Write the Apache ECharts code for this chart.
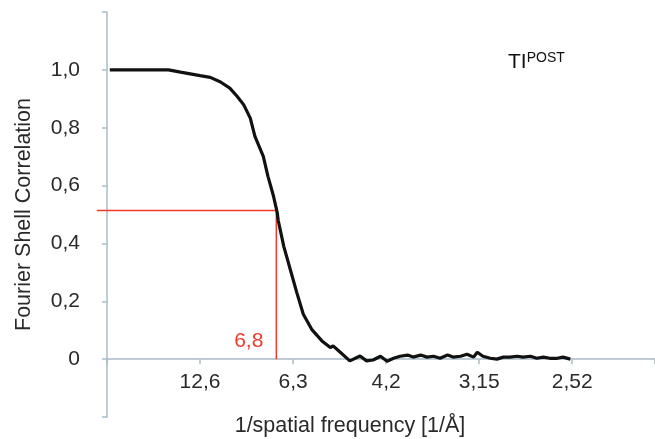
<!DOCTYPE html>
<html>
<head>
<meta charset="utf-8">
<script src="https://cdn.jsdelivr.net/npm/echarts@6/dist/echarts.min.js"></script>
<style>
  html, body { margin: 0; padding: 0; background: #fff; }
  #chart { width: 655px; height: 439px; }
</style>
</head>
<body>
<div id="chart"></div>
<script>
// x is spatial frequency in steps of 1/12.6 Å^-1, y is the correlation
const fscX = [0.03, 0.66, 0.79, 1.0, 1.11, 1.22, 1.32, 1.40, 1.47, 1.54, 1.59, 1.68, 1.73, 1.79, 1.83, 1.84,
  1.90, 1.97, 2.04, 2.11, 2.20, 2.31, 2.40, 2.43, 2.51, 2.61, 2.72, 2.79, 2.86, 2.94, 3.01, 3.08, 3.15,
  3.23, 3.29, 3.37, 3.44, 3.51, 3.58, 3.66, 3.72, 3.80, 3.87, 3.94, 3.98, 4.04, 4.12, 4.19, 4.26, 4.33,
  4.41, 4.47, 4.55, 4.62, 4.69, 4.76, 4.84, 4.90, 4.98];
const fscY = [1.0, 1.0, 0.992, 0.980, 0.974, 0.958, 0.937, 0.908, 0.879, 0.833, 0.770, 0.701, 0.632, 0.563, 0.506, 0.48,
  0.390, 0.310, 0.230, 0.155, 0.103, 0.063, 0.040, 0.046, 0.023, -0.006, 0.011, -0.006, -0.003, 0.010, -0.007, 0.003, 0.010,
  0.014, 0.007, 0.014, 0.007, 0.010, 0.003, 0.014, 0.007, 0.010, 0.017, 0.007, 0.024, 0.010, 0.003, 0.0, 0.007, 0.007,
  0.010, 0.007, 0.010, 0.003, 0.007, 0.003, 0.003, 0.007, 0.0];

const xTickLabels = ['12,6', '6,3', '4,2', '3,15', '2,52'];
const yTickValues = [0, 0.2, 0.4, 0.6, 0.8, 1.0];

// 0.5 threshold crossing (red guide)
const crossX = 1.82;
const crossY = 0.514;
const guideStartX = -0.11;
const crossLabel = '6,8';

const fscData = fscX.map((x, i) => [x, fscY[i]]);
const guideData = [[guideStartX, crossY], [crossX, crossY], [crossX, 0]];

const axisColor = '#a9bdc6';
const textColor = '#2a2a2a';
const red = '#f03a2c';
const font = 'Liberation Sans, Arial, sans-serif';

const yMin = -0.2, yMax = 1.2;
const gridTop = 12, gridBottom = 22;
const gridHeight = 439 - gridTop - gridBottom;
// pull the x axis up from the grid bottom to y = 0
const xAxisOffset = -gridHeight * (0 - yMin) / (yMax - yMin);

const myChart = echarts.init(document.getElementById('chart'));
const option = {
  animation: false,
  title: {
    text: '{a|TI}{b|POST}',
    left: 503,
    top: 46,
    textStyle: {
      rich: {
        a: { fontFamily: font, fontSize: 21, fontWeight: 'normal', color: '#111' },
        b: { fontFamily: font, fontSize: 14, fontWeight: 'normal', color: '#111', padding: [0, 0, 9, 0] }
      }
    }
  },
  grid: { left: 107, right: 0, top: gridTop, bottom: gridBottom, outerBoundsMode: 'none' },
  xAxis: {
    type: 'value',
    min: 0,
    max: 5.89,
    interval: 1,
    position: 'bottom',
    offset: xAxisOffset,
    name: '1/spatial frequency [1/Å]',
    nameLocation: 'middle',
    nameGap: 56,
    nameTextStyle: { fontFamily: font, fontSize: 21.5, color: textColor, padding: [0, 62, 0, 0] },
    axisLine: { onZero: false, lineStyle: { color: axisColor, width: 1.5 } },
    axisTick: { length: 5, lineStyle: { color: axisColor, width: 1.5 } },
    axisLabel: {
      margin: 13,
      fontFamily: font,
      fontSize: 21,
      color: textColor,
      formatter: v => (Number.isInteger(v) && v >= 1 ? xTickLabels[v - 1] || '' : '')
    },
    splitLine: { show: false }
  },
  yAxis: {
    type: 'value',
    min: yMin,
    max: yMax,
    interval: 0.2,
    name: 'Fourier Shell Correlation',
    nameLocation: 'middle',
    nameGap: 72,
    nameTextStyle: { fontFamily: font, fontSize: 21.5, color: textColor },
    axisLine: { show: true, lineStyle: { color: axisColor, width: 1.5 } },
    axisTick: { show: true, length: 5, lineStyle: { color: axisColor, width: 1.5 } },
    axisLabel: {
      margin: 27,
      fontFamily: font,
      fontSize: 21,
      color: textColor,
      formatter: v => {
        const r = Math.round(v * 10) / 10;
        if (!yTickValues.some(t => Math.abs(t - r) < 1e-6)) return '';
        return r === 0 ? '0' : r.toFixed(1).replace('.', ',');
      }
    },
    splitLine: { show: false }
  },
  series: [
    {
      name: 'FSC',
      type: 'line',
      data: fscData,
      symbol: 'none',
      lineStyle: { color: '#111', width: 3.2 },
      z: 3
    }
  ]
};
myChart.setOption(option);

// red guide runs a little past the y axis, so draw it from the axis scales
const guidePts = guideData.map(p => myChart.convertToPixel({ gridIndex: 0 }, p));
const labelPt = guidePts[2];
myChart.setOption({
  graphic: [
    {
      type: 'polyline',
      shape: { points: guidePts },
      style: { stroke: red, lineWidth: 1.5, fill: null },
      z: 2,
      silent: true
    },
    {
      type: 'text',
      x: labelPt[0] - 13,
      y: labelPt[1] - 7,
      style: {
        text: crossLabel,
        fill: red,
        font: '21px ' + font,
        align: 'right',
        verticalAlign: 'bottom'
      },
      z: 2,
      silent: true
    }
  ]
});
</script>
</body>
</html>
